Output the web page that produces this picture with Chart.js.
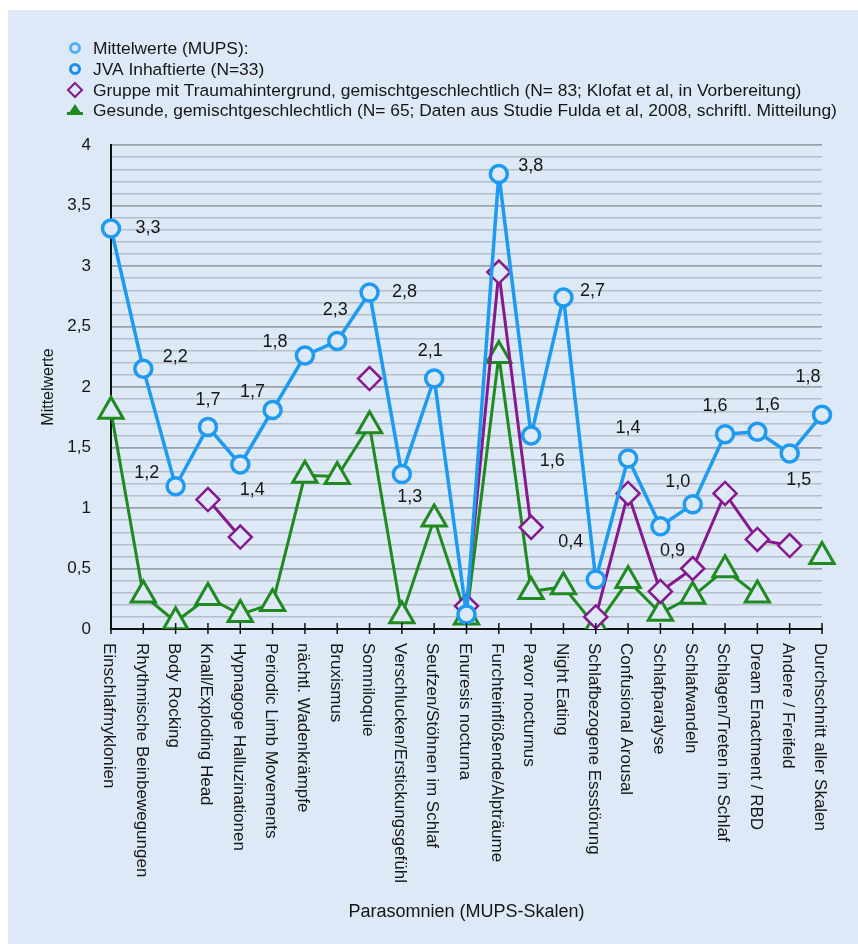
<!DOCTYPE html>
<html>
<head>
<meta charset="utf-8">
<script src="https://cdn.jsdelivr.net/npm/chart.js@4.4.1/dist/chart.umd.min.js"></script>
<style>
html, body { margin: 0; padding: 0; background: #fff; }
#wrap { position: absolute; left: 8px; top: 10px; width: 850px; height: 934px; background: #dde9f6; }
</style>
</head>
<body>
<div id="wrap"><canvas id="chart" width="850" height="934"></canvas></div>
<script>
// Parasomnien (MUPS-Skalen)
const skalen = [
  'Einschlafmyklonien', 'Rhythmische Beinbewegungen', 'Body Rocking', 'Knall/Exploding Head',
  'Hypnagoge Halluzinationen', 'Periodic Limb Movements', 'nächtl. Wadenkrämpfe', 'Bruxismus',
  'Somniloquie', 'Verschlucken/Erstickungsgefühl', 'Seufzen/Stöhnen im Schlaf', 'Enuresis nocturna',
  'Furchteinflößende/Alpträume', 'Pavor nocturnus', 'Night Eating', 'Schlafbezogene Essstörung',
  'Confusional Arousal', 'Schlafparalyse', 'Schlafwandeln', 'Schlagen/Treten im Schlaf',
  'Dream Enactment / RBD', 'Andere / Freifeld', 'Durchschnitt aller Skalen'
];

const jva = [3.31, 2.15, 1.18, 1.67, 1.36, 1.81, 2.26, 2.38, 2.78, 1.28, 2.07, 0.12,
  3.76, 1.60, 2.74, 0.41, 1.41, 0.85, 1.03, 1.61, 1.63, 1.45, 1.77];
const trauma = [null, null, null, 1.07, 0.76, null, null, null, 2.07, null, null, 0.19,
  2.95, 0.84, null, 0.10, 1.12, 0.31, 0.50, 1.12, 0.74, 0.69, null];
const gesunde = [1.80, 0.28, 0.06, 0.26, 0.12, 0.21, 1.27, 1.26, 1.68, 0.11, 0.91, 0.10,
  2.26, 0.31, 0.35, 0.02, 0.40, 0.13, 0.27, 0.49, 0.28, null, 0.60];

// Beschriftungen an den JVA-Punkten
const jvaLabels = ['3,3', '2,2', '1,2', '1,7', '1,4', '1,7', '1,8', '2,3', '2,8', '1,3', '2,1', null,
  '3,8', '1,6', '2,7', '0,4', '1,4', '0,9', '1,0', '1,6', '1,6', '1,5', '1,8'];
// Lage der Beschriftung relativ zum Punkt
const labelOffsets = [[37, 0], [32, -12], [-29, -13], [0, -27], [12, 26], [-20, -18], [-30, -14],
  [-2, -31], [35, -1], [8, 23], [-4, -27], null, [32, -8], [21, 26], [29, -6], [-25, -37],
  [0, -30], [12, 25], [-15, -22], [-10, -28], [10, -27], [9, 26], [-14, -38]];

const legendItems = [
  'Mittelwerte (MUPS):',
  'JVA Inhaftierte (N=33)',
  'Gruppe mit Traumahintergrund, gemischtgeschlechtlich (N= 83; Klofat et al, in Vorbereitung)',
  'Gesunde, gemischtgeschlechtlich (N= 65; Daten aus Studie Fulda et al, 2008, schriftl. Mitteilung)'
];

const BG = '#dde9f6';
const BLUE = '#1e9bf0';
const PURPLE = '#86198e';
const GREEN = '#1f8a1f';
const FONT = '"Liberation Sans", Arial, Helvetica, sans-serif';

Chart.defaults.font.family = FONT;
Chart.defaults.font.size = 17;
Chart.defaults.color = '#161616';

const extras = {
  id: 'extras',
  afterDatasetsDraw(chart) {
    const ctx = chart.ctx;
    const meta = chart.getDatasetMeta(0);
    ctx.save();
    ctx.font = '18px ' + FONT;
    ctx.fillStyle = '#161616';
    ctx.textAlign = 'center';
    ctx.textBaseline = 'middle';
    jvaLabels.forEach((t, i) => {
      if (!t) return;
      const p = meta.data[i];
      ctx.fillText(t, p.x + labelOffsets[i][0], p.y + labelOffsets[i][1]);
    });
    ctx.restore();
  },
  afterDraw(chart) {
    const ctx = chart.ctx;
    const x = chart.scales.x;
    const area = chart.chartArea;
    ctx.save();
    // tick marks across the x axis
    ctx.strokeStyle = '#111';
    ctx.lineWidth = 1.5;
    skalen.forEach((s, i) => {
      const px = x.getPixelForValue(i);
      ctx.beginPath();
      ctx.moveTo(px, area.bottom - 6);
      ctx.lineTo(px, area.bottom + 5);
      ctx.stroke();
    });
    // rotated category labels
    ctx.font = '17px ' + FONT;
    ctx.fillStyle = '#161616';
    ctx.textAlign = 'left';
    ctx.textBaseline = 'middle';
    skalen.forEach((s, i) => {
      const px = x.getPixelForValue(i);
      ctx.save();
      ctx.translate(px - 2, area.bottom + 14);
      ctx.rotate(Math.PI / 2);
      ctx.fillText(s, 0, 0);
      ctx.restore();
    });

    // legend
    const ys = [38, 59, 80, 100];
    const mx = 67, tx = 85;
    ctx.font = '17.4px ' + FONT;
    ctx.textAlign = 'left';
    ctx.fillStyle = '#161616';
    legendItems.forEach((t, i) => ctx.fillText(t, tx, ys[i] + 1));
    ctx.lineWidth = 3;
    ctx.strokeStyle = '#4fb3f3';
    ctx.beginPath(); ctx.arc(mx, ys[0], 4.5, 0, Math.PI * 2); ctx.stroke();
    ctx.strokeStyle = '#1a8fe8';
    ctx.beginPath(); ctx.arc(mx, ys[1], 4.5, 0, Math.PI * 2); ctx.stroke();
    ctx.strokeStyle = PURPLE;
    ctx.lineWidth = 2;
    ctx.beginPath();
    ctx.moveTo(mx, ys[2] - 7); ctx.lineTo(mx + 7, ys[2]); ctx.lineTo(mx, ys[2] + 7); ctx.lineTo(mx - 7, ys[2]);
    ctx.closePath(); ctx.stroke();
    ctx.fillStyle = GREEN;
    ctx.beginPath();
    ctx.moveTo(mx, ys[3] - 6); ctx.lineTo(mx + 6, ys[3] + 3); ctx.lineTo(mx - 6, ys[3] + 3);
    ctx.closePath(); ctx.fill();
    ctx.fillRect(mx - 8, ys[3] + 2, 16, 3);
    ctx.restore();
  }
};

new Chart(document.getElementById('chart'), {
  type: 'line',
  data: {
    labels: skalen,
    datasets: [{
      label: 'JVA Inhaftierte (N=33)',
      data: jva,
      borderColor: BLUE,
      borderWidth: 3.5,
      pointStyle: 'circle',
      pointRadius: 8.5,
      pointBorderWidth: 3.5,
      pointBackgroundColor: BG,
      pointBorderColor: BLUE,
      tension: 0
    }, {
      label: 'Gruppe mit Traumahintergrund',
      data: trauma,
      borderColor: PURPLE,
      borderWidth: 3,
      pointStyle: 'rectRot',
      pointRadius: 11.5,
      pointBorderWidth: 2.5,
      pointBackgroundColor: BG,
      pointBorderColor: PURPLE,
      spanGaps: false,
      tension: 0
    }, {
      label: 'Gesunde',
      data: gesunde,
      borderColor: GREEN,
      borderWidth: 3,
      pointStyle: 'triangle',
      pointRadius: 14,
      pointBorderWidth: 3,
      pointBackgroundColor: BG,
      pointBorderColor: GREEN,
      spanGaps: false,
      tension: 0
    }]
  },
  options: {
    responsive: false,
    animation: false,
    layout: { padding: { top: 135, right: 36, bottom: 0, left: 0 } },
    plugins: { legend: { display: false }, tooltip: { enabled: false } },
    scales: {
      x: {
        offset: false,
        grid: { display: false },
        border: { color: '#111', width: 2 },
        ticks: { display: false },
        title: { display: true, text: 'Parasomnien (MUPS-Skalen)', font: { size: 18 }, padding: { top: 0, bottom: 21 } },
        afterFit: (s) => { s.height = 315; }
      },
      y: {
        min: 0,
        max: 4,
        grid: {
          drawTicks: false,
          color: (c) => (Math.round(c.tick.value * 10) % 5 === 0 ? '#9aa1a9' : '#b5bfca'),
          lineWidth: (c) => (Math.round(c.tick.value * 10) % 5 === 0 ? 1.8 : 1.4)
        },
        border: { color: '#111', width: 2 },
        ticks: {
          stepSize: 0.1,
          autoSkip: false,
          padding: 20,
          callback: (v) => (Math.round(v * 10) % 5 === 0 ? String(Math.round(v * 10) / 10).replace('.', ',') : '')
        },
        title: { display: true, text: 'Mittelwerte', font: { size: 16 }, padding: { top: 31, bottom: 0 } },
        afterFit: (s) => { s.width = 103; }
      }
    }
  },
  plugins: [extras]
});
</script>
</body>
</html>
